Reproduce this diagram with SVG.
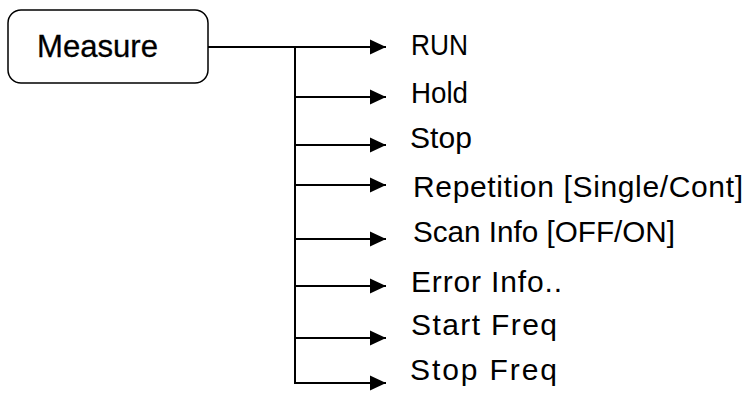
<svg xmlns="http://www.w3.org/2000/svg" width="747" height="399" viewBox="0 0 747 399">
  <style>
    .box { fill: #ffffff; stroke: #000000; stroke-width: 1.5; }
    .title { font-family: "Liberation Sans", Arial, sans-serif; font-size: 32px; fill: #000000; stroke: #000000; stroke-width: 0.3; }
    .item { font-family: "Liberation Sans", Arial, sans-serif; font-size: 30px; fill: #000000; }
    .conn { fill: none; stroke: #000000; stroke-width: 2; }
  </style>
  <defs>
    <marker id="arrow" markerUnits="userSpaceOnUse" markerWidth="16" markerHeight="16" refX="16" refY="8" orient="auto">
      <path d="M0,0.5 L16,8 L0,15.5 Z" fill="#000000"/>
    </marker>
  </defs>
  <rect width="747" height="399" fill="#ffffff"/>
  <g id="measure">
    <rect class="box" x="8" y="10" width="200" height="73" rx="13" ry="13"/>
    <text class="title" x="37" y="57" textLength="121" lengthAdjust="spacingAndGlyphs">Measure</text>
  </g>
  <g id="connectors">
    <path class="conn" d="M208,47 H386" marker-end="url(#arrow)"/>
    <path class="conn" d="M295,47 V383"/>
    <path class="conn" d="M295,97 H386" marker-end="url(#arrow)"/>
    <path class="conn" d="M295,145 H386" marker-end="url(#arrow)"/>
    <path class="conn" d="M295,185 H386" marker-end="url(#arrow)"/>
    <path class="conn" d="M295,239 H386" marker-end="url(#arrow)"/>
    <path class="conn" d="M295,286 H386" marker-end="url(#arrow)"/>
    <path class="conn" d="M295,338 H386" marker-end="url(#arrow)"/>
    <path class="conn" d="M294,383 H386" marker-end="url(#arrow)"/>
  </g>
  <g id="run"><text class="item" x="411" y="55" textLength="57" lengthAdjust="spacingAndGlyphs">RUN</text></g>
  <g id="hold"><text class="item" x="411" y="103" textLength="57" lengthAdjust="spacingAndGlyphs">Hold</text></g>
  <g id="stop"><text class="item" x="410" y="148" textLength="62" lengthAdjust="spacing">Stop</text></g>
  <g id="repetition"><text class="item" x="413" y="197" textLength="330" lengthAdjust="spacing">Repetition [Single/Cont]</text></g>
  <g id="scan-info"><text class="item" x="413" y="242" textLength="262" lengthAdjust="spacingAndGlyphs">Scan Info [OFF/ON]</text></g>
  <g id="error-info"><text class="item" x="411" y="292" textLength="151" lengthAdjust="spacing">Error Info..</text></g>
  <g id="start-freq"><text class="item" x="411" y="335" textLength="146" lengthAdjust="spacing">Start Freq</text></g>
  <g id="stop-freq"><text class="item" x="410" y="380" textLength="147" lengthAdjust="spacing">Stop Freq</text></g>
</svg>
